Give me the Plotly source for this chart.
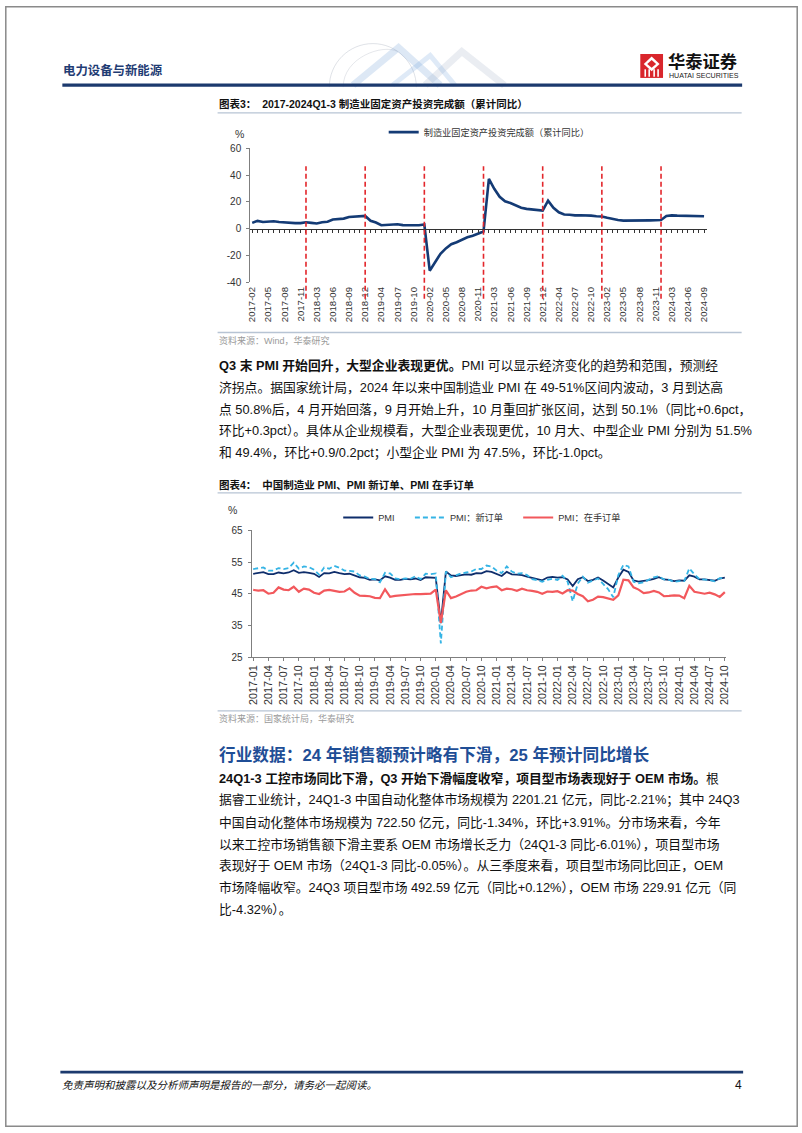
import plotly.graph_objects as go

W, H = 802, 1133
FONT = "Liberation Sans, Arial, Noto Sans CJK SC, sans-serif"


def X(p):
    return p / W


def Y(p):
    return 1 - p / H


# ---------------- Chart 1 data: manufacturing FAI (cumulative YoY, %) ----------------
fai_cats = [f"{yr}-{m:02d}" for yr in range(2017, 2025) for m in range(2, 13)
            if not (yr == 2024 and m > 9)]
fai_yoy = [4.3, 5.8, 5.0, 5.1, 5.5, 4.9, 4.5, 4.2, 4.1, 4.1, 4.8,
           4.3, 3.8, 4.8, 5.2, 6.8, 7.3, 7.5, 8.7, 9.1, 9.5, 9.5,
           5.9, 4.6, 2.5, 2.7, 3.0, 3.3, 2.6, 2.5, 2.6, 2.5, 3.1,
           -31.5, -25.2, -18.8, -14.8, -11.7, -10.2, -8.1, -6.5, -5.3, -3.5, -2.2,
           37.3, 29.8, 23.8, 20.4, 19.2, 17.3, 15.7, 14.8, 14.2, 13.7, 13.5,
           20.9, 15.6, 12.2, 10.6, 10.4, 9.9, 10.0, 10.1, 9.7, 9.3, 9.1,
           8.1, 7.0, 6.4, 6.0, 6.0, 5.7, 5.9, 6.2, 6.2, 6.3, 6.5,
           9.4, 9.9, 9.7, 9.6, 9.5, 9.3, 9.1, 9.2]
fai_year_ends = ["2017-12", "2018-12", "2019-12", "2020-12", "2021-12", "2022-12", "2023-12"]
fai_ticks = fai_cats[::3]
fai_yticks = [-40, -20, 0, 20, 40, 60]
fai_yticktext = ["-40", "-20", "0", "20", "40", "60"]
fai_name = "制造业固定资产投资完成额（累计同比）"

# ---------------- Chart 2 data: PMI (%) ----------------
pmi_cats = [f"{yr}-{m:02d}" for yr in range(2017, 2025) for m in range(1, 13)
            if not (yr == 2024 and m > 10)]
pmi = [51.3, 51.6, 51.8, 51.2, 51.2, 51.7, 51.4, 51.7, 52.4, 51.6, 51.8, 51.6,
       51.3, 50.3, 51.5, 51.4, 51.9, 51.5, 51.2, 51.3, 50.8, 50.2, 50.0, 49.4,
       49.5, 49.2, 50.5, 50.1, 49.4, 49.4, 49.7, 49.5, 49.8, 49.3, 50.2, 50.2,
       50.0, 35.7, 52.0, 50.8, 50.6, 50.9, 51.1, 51.0, 51.5, 51.4, 52.1, 51.9,
       51.3, 50.6, 51.9, 51.1, 51.0, 50.9, 50.4, 50.1, 49.6, 49.2, 50.1, 50.3,
       50.1, 50.2, 49.5, 47.4, 49.6, 50.2, 49.0, 49.4, 50.1, 49.2, 48.0, 47.0,
       50.1, 52.6, 51.9, 49.2, 48.8, 49.0, 49.3, 49.7, 50.2, 49.5, 49.4, 49.0,
       49.2, 49.1, 50.8, 50.4, 49.5, 49.5, 49.4, 49.1, 49.8, 50.1]
pmi_new_orders = [52.8, 53.0, 53.3, 52.3, 52.3, 53.1, 52.8, 53.1, 54.8, 52.9, 53.6, 53.4,
                  52.6, 51.0, 53.3, 52.9, 53.8, 53.2, 52.3, 52.2, 52.0, 50.8, 50.4, 49.7,
                  49.6, 48.6, 51.6, 51.4, 49.8, 49.6, 49.8, 49.7, 50.5, 49.6, 51.3, 51.2,
                  51.4, 29.3, 52.0, 50.2, 50.9, 51.4, 51.7, 52.0, 52.8, 52.8, 53.9, 53.6,
                  52.3, 51.5, 53.6, 52.0, 51.3, 51.5, 50.9, 49.6, 49.3, 48.8, 49.4, 49.7,
                  49.3, 50.7, 48.8, 42.6, 48.2, 50.4, 48.5, 49.2, 49.8, 48.1, 46.4, 43.9,
                  50.9, 54.1, 53.6, 48.8, 48.3, 48.6, 49.5, 50.2, 50.5, 49.5, 49.4, 48.7,
                  49.0, 49.0, 53.0, 51.1, 49.6, 49.5, 49.3, 48.9, 49.9, 50.0]
pmi_backlog = [46.2, 46.0, 46.1, 45.0, 45.3, 47.0, 46.3, 46.1, 47.2, 45.6, 46.6, 46.3,
               45.3, 44.9, 46.0, 46.2, 45.9, 45.6, 45.7, 46.7, 45.3, 44.4, 44.3, 44.2,
               43.7, 43.6, 46.4, 44.0, 44.3, 44.5, 44.7, 44.7, 44.9, 44.9, 44.9, 45.0,
               46.3, 35.8, 46.1, 43.6, 44.1, 44.8, 45.6, 46.0, 46.1, 47.2, 46.7, 47.1,
               47.3, 46.1, 46.6, 46.4, 45.9, 46.6, 46.1, 45.9, 45.6, 45.0, 45.7, 45.6,
               45.8, 45.1, 46.1, 46.0, 44.9, 44.2, 42.6, 43.1, 44.1, 43.9, 43.4, 43.1,
               44.5, 49.4, 49.2, 47.0, 46.3, 45.2, 45.4, 45.9, 45.4, 44.2, 44.3, 44.5,
               44.4, 43.6, 47.5, 45.6, 45.3, 45.0, 45.3, 44.8, 44.0, 45.5]
pmi_ticks = pmi_cats[::3]
pmi_yticks = [25, 35, 45, 55, 65]
pmi_names = ["PMI", "PMI：新订单", "PMI：在手订单"]

# ---------------- Text content ----------------
header_title = "电力设备与新能源"
chart1_title = "图表3：  2017-2024Q1-3 制造业固定资产投资完成额（累计同比）"
chart2_title = "图表4：  中国制造业 PMI、PMI 新订单、PMI 在手订单"
source1 = "资料来源：Wind，华泰研究"
source2 = "资料来源：国家统计局，华泰研究"
para1 = [
    "<b>Q3 末 PMI 开始回升，大型企业表现更优。</b>PMI 可以显示经济变化的趋势和范围，预测经",
    "济拐点。据国家统计局，2024 年以来中国制造业 PMI 在 49-51%区间内波动，3 月到达高",
    "点 50.8%后，4 月开始回落，9 月开始上升，10 月重回扩张区间，达到 50.1%（同比+0.6pct，",
    "环比+0.3pct）。具体从企业规模看，大型企业表现更优，10 月大、中型企业 PMI 分别为 51.5%",
    "和 49.4%，环比+0.9/0.2pct；小型企业 PMI 为 47.5%，环比-1.0pct。",
]
section_title = "行业数据：24 年销售额预计略有下滑，25 年预计同比增长"
para2 = [
    "<b>24Q1-3 工控市场同比下滑，Q3 开始下滑幅度收窄，项目型市场表现好于 OEM 市场。</b>根",
    "据睿工业统计，24Q1-3 中国自动化整体市场规模为 2201.21 亿元，同比-2.21%；其中 24Q3",
    "中国自动化整体市场规模为 722.50 亿元，同比-1.34%，环比+3.91%。分市场来看，今年",
    "以来工控市场销售额下滑主要系 OEM 市场增长乏力（24Q1-3 同比-6.01%），项目型市场",
    "表现好于 OEM 市场（24Q1-3 同比-0.05%）。从三季度来看，项目型市场同比回正，OEM",
    "市场降幅收窄。24Q3 项目型市场 492.59 亿元（同比+0.12%），OEM 市场 229.91 亿元（同",
    "比-4.32%）。",
]
footer_text = "免责声明和披露以及分析师声明是报告的一部分，请务必一起阅读。"
page_no = "4"
logo_cn = "华泰证券"
logo_en = "HUATAI SECURITIES"

# ---------------- Figure ----------------
fig = go.Figure()

fig.add_trace(go.Scatter(
    x=fai_cats, y=fai_yoy, mode="lines", name=fai_name,
    line=dict(color="#143B75", width=2.6), xaxis="x", yaxis="y",
    legend="legend", hoverinfo="skip"))
# helper trace so the zero-line axis with ticks is drawn
fig.add_trace(go.Scatter(
    x=fai_cats, y=fai_yoy, mode="lines", showlegend=False, opacity=0,
    line=dict(width=0), xaxis="x3", yaxis="y", hoverinfo="skip"))

pmi_series = [pmi, pmi_new_orders, pmi_backlog]
pmi_styles = [dict(color="#0E2D6B", width=1.8),
              dict(color="#35B4E5", width=1.8, dash="5px,3px"),
              dict(color="#F2585C", width=2.2)]
for i, (vals, name, st) in enumerate(zip(pmi_series, pmi_names, pmi_styles)):
    fig.add_trace(go.Scatter(
        x=pmi_cats, y=vals, mode="lines", name=name, line=st,
        xaxis="x2", yaxis="y2", legend=f"legend{i + 2}", hoverinfo="skip"))

axis_gray = "#7f7f7f"
tickfont = dict(family=FONT, size=10, color="#333333")

# Chart 1 geometry
c1_left, c1_right = 248, 710
c1_first, c1_last = 250, 707
c1_step = (c1_last - c1_first) / (len(fai_cats) - 1)
c1_range = [-(c1_first - c1_left) / c1_step, len(fai_cats) - 1 + (c1_right - c1_last) / c1_step]

# Chart 2 geometry
c2_left, c2_right = 249.5, 729.5
c2_first, c2_last = 251, 728
c2_step = (c2_last - c2_first) / (len(pmi_cats) - 1)
c2_range = [-(c2_first - c2_left) / c2_step, len(pmi_cats) - 1 + (c2_right - c2_last) / c2_step]

fig.update_layout(
    width=W, height=H, margin=dict(l=0, r=0, t=0, b=0),
    paper_bgcolor="white", plot_bgcolor="rgba(0,0,0,0)",
    font=dict(family=FONT, color="#222222"),
    xaxis=dict(domain=[X(c1_left), X(c1_right)], anchor="y", type="category",
               range=c1_range, tickmode="array", tickvals=fai_ticks, ticktext=fai_ticks,
               tickangle=-90, tickfont=dict(family=FONT, size=9.6, color="#333333"),
               showline=False, ticks="", showgrid=False, zeroline=False,
               ticklabelstandoff=2),
    xaxis3=dict(overlaying="x", anchor="free", position=Y(225), type="category",
                range=c1_range, tickmode="array", tickvals=fai_cats, showticklabels=False,
                showline=True, linecolor="#333333", linewidth=1, ticks="outside",
                ticklen=3, tickwidth=1, tickcolor="#333333", showgrid=False, zeroline=False),
    yaxis=dict(domain=[Y(279), Y(144)], anchor="x", range=[-40, 60],
               tickmode="array", tickvals=fai_yticks, ticktext=fai_yticktext,
               showline=True, linecolor=axis_gray, linewidth=1, ticks="outside",
               ticklen=3, tickcolor=axis_gray, tickfont=tickfont, showgrid=False,
               zeroline=False, ticklabelstandoff=3),
    xaxis2=dict(domain=[X(c2_left), X(c2_right)], anchor="y2", type="category",
                range=c2_range, tickmode="array", tickvals=pmi_ticks, ticktext=pmi_ticks,
                tickangle=-90, tickfont=dict(family=FONT, size=10.8, color="#333333"),
                showline=True, linecolor=axis_gray, linewidth=1, ticks="outside",
                ticklen=3, tickcolor=axis_gray, showgrid=False, zeroline=False),
    yaxis2=dict(domain=[Y(658), Y(530)], anchor="x2", range=[25, 65],
                tickmode="array", tickvals=pmi_yticks, ticktext=[str(v) for v in pmi_yticks],
                showline=True, linecolor=axis_gray, linewidth=1, ticks="outside",
                ticklen=3, tickcolor=axis_gray, tickfont=tickfont, showgrid=False,
                zeroline=False, ticklabelstandoff=3),
)

legend_common = dict(xanchor="left", yanchor="middle", bgcolor="rgba(0,0,0,0)",
                     borderwidth=0, itemwidth=30, orientation="h",
                     font=dict(family=FONT, size=9.2, color="#333333"))
fig.update_layout(
    legend=dict(x=X(383), y=Y(127.5), **legend_common),
    legend2=dict(x=X(337), y=Y(517), **legend_common),
    legend3=dict(x=X(409.5), y=Y(517), **legend_common),
    legend4=dict(x=X(519), y=Y(517), **legend_common),
)

shapes = []
# page border
shapes.append(dict(type="rect", xref="paper", yref="paper", x0=X(0.8), x1=X(801.2),
                   y0=Y(1132.2), y1=Y(0.8), line=dict(color="#8a8a8a", width=1.5)))
# header watermark (globe + stripes), faint
cx, cy, r = 372, 82, 44
k = 0.5523
globe = (f"M {X(cx - r)},{Y(cy)} C {X(cx - r)},{Y(cy - k * r)} {X(cx - k * r)},{Y(cy - r)} {X(cx)},{Y(cy - r)} "
         f"C {X(cx + k * r)},{Y(cy - r)} {X(cx + r)},{Y(cy - k * r)} {X(cx + r)},{Y(cy)}")
shapes.append(dict(type="path", xref="paper", yref="paper", path=globe,
                   line=dict(color="rgba(150,160,175,0.3)", width=1)))
globe2 = (f"M {X(cx - 30)},{Y(cy)} C {X(cx - 30)},{Y(cy - 30)} {X(cx + 10)},{Y(cy - 44)} {X(cx + 25)},{Y(cy - 36)}")
shapes.append(dict(type="path", xref="paper", yref="paper", path=globe2,
                   line=dict(color="rgba(150,160,175,0.25)", width=1)))
for pts, col, wd in [([(352, 80), (398, 42), (440, 80)], "rgba(120,165,215,0.25)", 7),
                     ([(425, 80), (462, 46), (505, 80)], "rgba(160,175,195,0.22)", 7),
                     ([(392, 80), (430, 50), (455, 80)], "rgba(110,160,220,0.22)", 5)]:
    p = "M " + " L ".join(f"{X(a)},{Y(b)}" for a, b in pts)
    shapes.append(dict(type="path", xref="paper", yref="paper", path=p,
                       line=dict(color=col, width=wd)))
# header & footer rules
shapes.append(dict(type="line", xref="paper", yref="paper", x0=X(58), x1=X(745.5),
                   y0=Y(80), y1=Y(80), line=dict(color="#1C3A6E", width=3.2)))
shapes.append(dict(type="line", xref="paper", yref="paper", x0=X(56), x1=X(746.5),
                   y0=Y(1077.5), y1=Y(1077.5), line=dict(color="#1C3A6E", width=2.6)))
# logo
shapes.append(dict(type="rect", xref="paper", yref="paper", x0=X(642.5), x1=X(665.5),
                   y0=Y(72.7), y1=Y(48.5), line=dict(width=0), fillcolor="#D9262C"))
dia = (f"M {X(654)},{Y(51)} L {X(662)},{Y(58.5)} L {X(654)},{Y(66)} L {X(646)},{Y(58.5)} Z")
shapes.append(dict(type="path", xref="paper", yref="paper", path=dia,
                   line=dict(width=0), fillcolor="white"))
dia2 = (f"M {X(654)},{Y(54.5)} L {X(658.5)},{Y(58.5)} L {X(654)},{Y(62.5)} L {X(649.5)},{Y(58.5)} Z")
shapes.append(dict(type="path", xref="paper", yref="paper", path=dia2,
                   line=dict(width=0), fillcolor="#D9262C"))
for lx in [647.5, 651.5, 656.5, 660.5]:
    shapes.append(dict(type="line", xref="paper", yref="paper", x0=X(lx), x1=X(lx),
                       y0=Y(64), y1=Y(71.5), line=dict(color="white", width=1.6)))
# title / source rules
for yy in [108, 330, 492, 712.5]:
    shapes.append(dict(type="line", xref="paper", yref="paper", x0=X(215), x1=X(745),
                       y0=Y(yy), y1=Y(yy), line=dict(color="#B7C4D4", width=1.3)))
# year-end dashed markers in chart 1
for ye in fai_year_ends:
    shapes.append(dict(type="line", xref="x", yref="paper", x0=ye, x1=ye,
                       y0=Y(296), y1=Y(162), layer="above",
                       line=dict(color="#E3262B", width=1.6, dash="5px,3px")))
fig.update_layout(shapes=shapes)

anns = []


def ann(text, x, y, size, color="#1a1a1a", xanchor="left", yanchor="middle", family=FONT):
    anns.append(dict(text=text, x=X(x), y=Y(y), xref="paper", yref="paper",
                     xanchor=xanchor, yanchor=yanchor, showarrow=False,
                     font=dict(family=family, size=size, color=color), align="left"))


ann(f"<b>{header_title}</b>", 57, 65.5, 12.4, "#1F3C74")
ann(f"<b>{logo_cn}</b>", 669, 57, 17.3, "#111111")
ann(logo_en, 669.5, 70.5, 7.1, "#222222")

ann(f"<b>{chart1_title}</b>", 214, 99.5, 10.5, "#111111")
ann("%", 237, 129.5, 10.5, "#333333", xanchor="center")
ann(source1, 214, 338, 9, "#9a9a9a")

ann(f"<b>{chart2_title}</b>", 214, 484.5, 10.5, "#111111")
ann("%", 230, 509, 10.5, "#333333", xanchor="center")
ann(source2, 214, 720.5, 9, "#9a9a9a")

p1_y = [363.5, 385.5, 407.5, 429.5, 451.5]
for line, yy in zip(para1, p1_y):
    ann(line, 214, yy, 12.8, "#111111")

ann(f"<b>{section_title}</b>", 214, 757, 16.7, "#1F4E96")
p2_y = [781, 803, 825, 847, 869, 891, 913]
for line, yy in zip(para2, p2_y):
    ann(line, 214, yy, 12.8, "#111111")

ann(f"<i>{footer_text}</i>", 56, 1090.5, 10.5, "#111111")
ann(page_no, 747, 1090.5, 12, "#111111", xanchor="right")

fig.update_layout(annotations=anns)

fig.write_html("out.html")
